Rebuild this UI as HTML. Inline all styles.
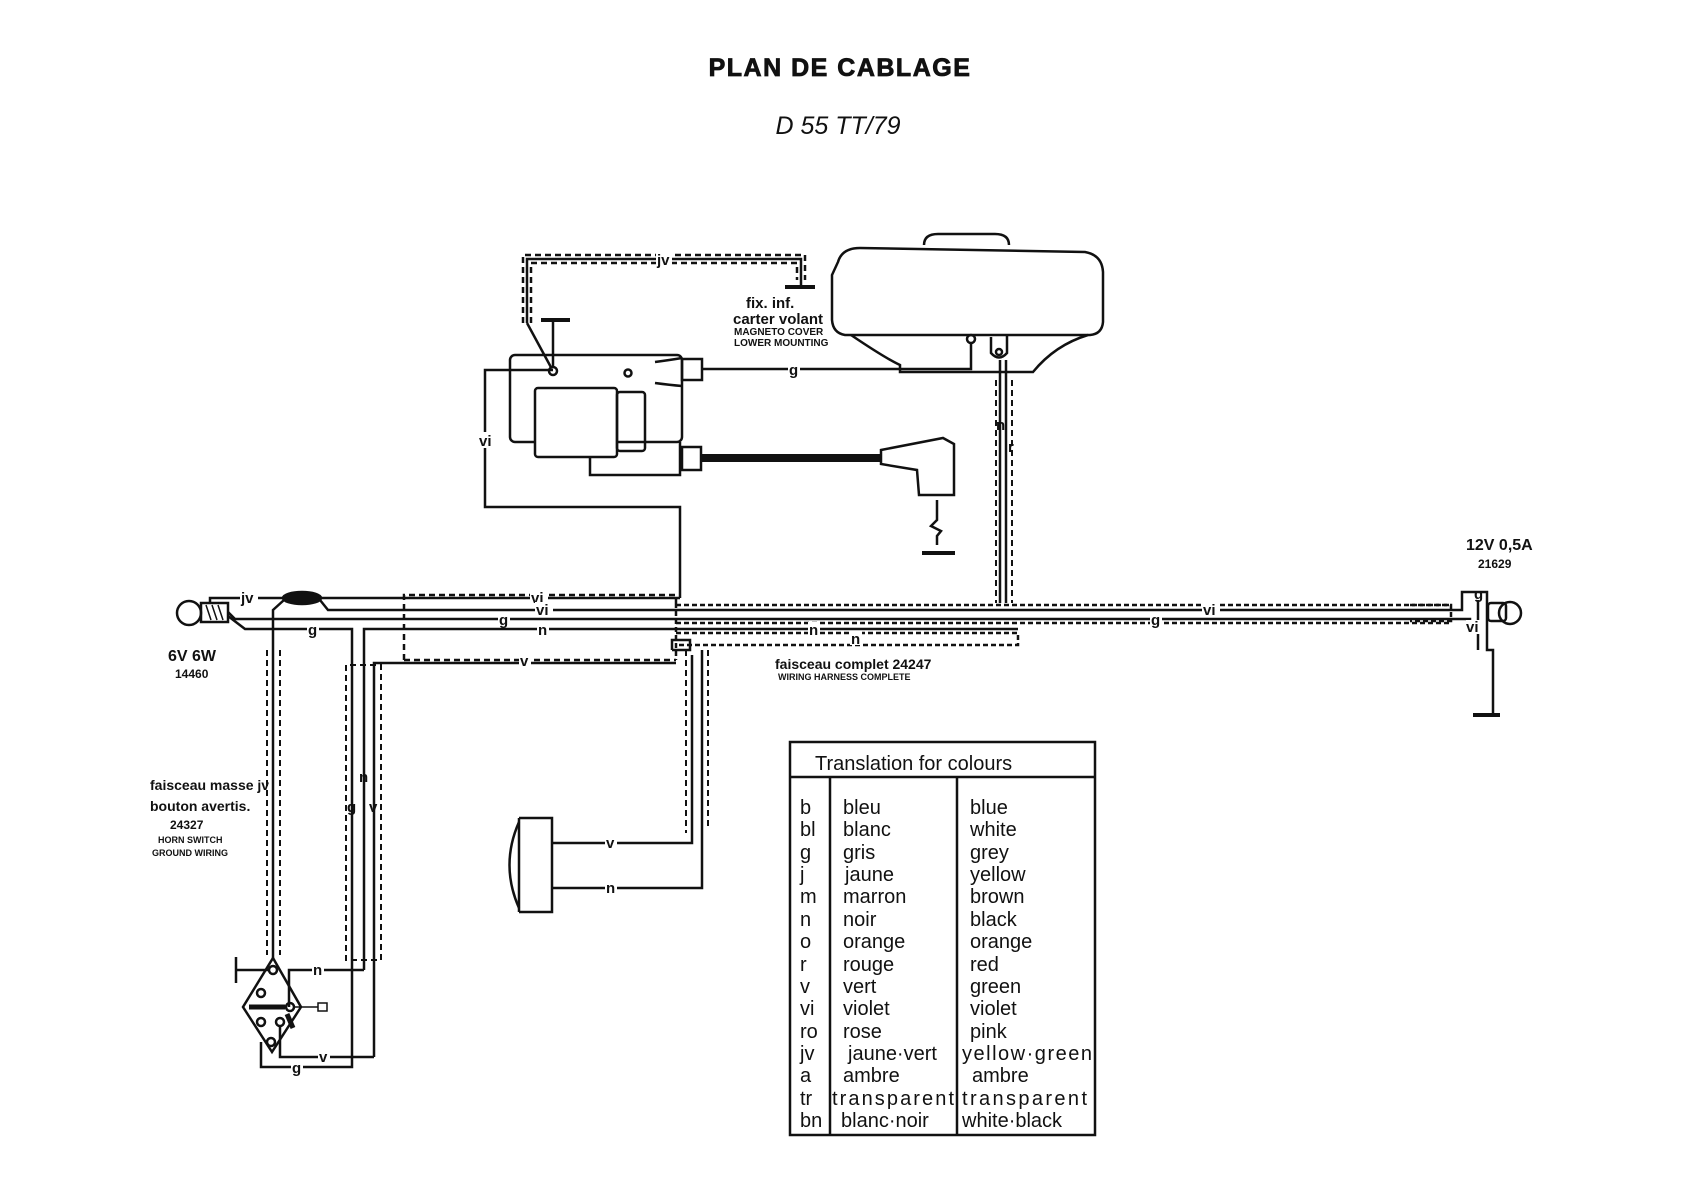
<!DOCTYPE html>
<html><head><meta charset="utf-8"><style>
html,body{margin:0;padding:0;background:#fff}
svg{display:block}
text{font-family:"Liberation Sans",sans-serif;fill:#111}
.b{font-weight:bold}
.t{font-size:20px}
</style></head><body>
<svg width="1690" height="1200" viewBox="0 0 1690 1200" xmlns="http://www.w3.org/2000/svg">
<text x="840" y="76" class="b" font-size="25" letter-spacing="1.5" stroke="#111" stroke-width="0.8" text-anchor="middle">PLAN DE CABLAGE</text>
<text x="838" y="134" font-size="25" font-style="italic" text-anchor="middle">D 55 TT/79</text>

<g stroke="#111" stroke-width="2.5" fill="none">
<!-- jv dashed loop -->
<path d="M523 323 V255 H805 V280" stroke-dasharray="6 4"/>
<path d="M531 323 V263 H797 V280" stroke-dasharray="6 4"/>
<path d="M527 323 V259 H801 V287"/>
<path d="M527 323 L553 371"/>
<path d="M553 371 V320"/>
<!-- coil -->
<rect x="510" y="355" width="172" height="87" rx="5"/>
<rect x="535" y="388" width="82" height="69" rx="3" fill="#fff"/>
<rect x="617" y="392" width="28" height="59" rx="3"/>
<path d="M590 457 V475 H680 V442"/>
<rect x="682" y="359" width="20" height="21"/>
<rect x="682" y="447" width="19" height="23"/>
<circle cx="553" cy="371" r="4" fill="#fff"/>
<circle cx="628" cy="373" r="3.5"/>
<path d="M655 362 Q670 360 682 358 M655 383 Q670 385 682 386"/>
<!-- g wire -->
<path d="M702 369 H971 V344"/>
<circle cx="971" cy="339" r="4" fill="#fff"/>
<!-- HT lead -->
<path d="M701 458 H881" stroke-width="8"/>
<path d="M881 450 L943 438 L954 444 L954 495 L919 495 L917 470 L881 464 Z" fill="#fff"/>
<path d="M937 500 V520 L931 526 L941 531 L937 536 V545"/>
<!-- magneto -->
<path d="M924 245 Q924 234 938 234 H995 Q1009 234 1009 245"/>
<path d="M838 262 Q842 248 860 248 L1085 252 Q1102 255 1103 272 V322 Q1102 334 1090 335 H845 Q833 333 832 320 V275 Z"/>
<path d="M851 335 Q885 358 900 365 V372 H1033 Q1055 345 1088 335"/>
<path d="M991 337 V353 Q999 362 1007 353 V335"/>
<circle cx="999" cy="352" r="3"/>
<!-- n r wires -->
<path d="M1000 360 V603 M1006 360 V603"/>
<path d="M996 380 V603 M1012 380 V603" stroke-dasharray="6 4" stroke-width="2"/>
<!-- vi from coil -->
<path d="M553 370 H485 V507 H680 V598"/>
<!-- lamp left -->
<circle cx="189" cy="613" r="12"/>
<rect x="201" y="603" width="27" height="19"/>
<path d="M206 605 L211 620 M212 605 L217 620 M218 605 L223 620" stroke-width="1.5"/>
<path d="M210 603 V598 H283"/>
<ellipse cx="302" cy="598" rx="19" ry="6" fill="#111"/>
<path d="M321 598 H680"/>
<path d="M320 600 L328 610 H1451"/>
<path d="M228 612 L235 619 H1451"/>
<path d="M228 616 L245 629 H352 V1067 H261 V1042"/>
<path d="M364 970 V629 H1018"/>
<!-- dashed harness -->
<path d="M404 660 V595 H676 V603" stroke-dasharray="6 4"/>
<path d="M404 660 H676" stroke-dasharray="6 4"/>
<path d="M676 605 H1451 M676 623 H1451" stroke-dasharray="5 3"/>
<path d="M676 633 H1018 V645 H676" stroke-dasharray="5 3"/>
<path d="M676 603 V660" stroke-dasharray="5 3"/>
<path d="M374 1057 V663 H676"/>
<path d="M672 650 V640 H690 V650 H672"/>
<!-- jv to horn switch -->
<path d="M284 600 L273 610 V958"/>
<path d="M267 650 V955 M280 650 V955" stroke-dasharray="6 4" stroke-width="2"/>
<!-- g n v column dashed -->
<path d="M346 665 V960 H381 V665 Z" stroke-dasharray="6 4" stroke-width="2"/>
<!-- horn switch -->
<path d="M273 958 L301 1007 L272 1052 L243 1007 Z"/>
<path d="M236 970 H270 M236 957 V983"/>
<circle cx="273" cy="970" r="4"/><circle cx="261" cy="993" r="4"/><circle cx="290" cy="1007" r="4"/>
<circle cx="261" cy="1022" r="4"/><circle cx="280" cy="1022" r="4"/><circle cx="271" cy="1042" r="4"/>
<path d="M249 1007 H285" stroke-width="5"/>
<path d="M294 1007 H318" stroke-width="1.5"/>
<rect x="318" y="1003" width="9" height="8" stroke-width="1.5"/>
<path d="M287 1014 L293 1028" stroke-width="5"/>
<path d="M289 1007 V970 H364"/>
<path d="M280 1026 V1057 H374"/>
<!-- horn -->
<path d="M519 818 V912 M519 818 H552 V912 H519"/>
<path d="M519 822 Q500 865 519 908"/>
<path d="M552 843 H692 V655"/>
<path d="M552 888 H702 V650"/>
<path d="M686 650 V833 M708 650 V828" stroke-dasharray="6 4" stroke-width="2"/>
<!-- right lamp -->
<path d="M1451 610 H1462 V592 H1480 M1451 619 H1470 V628"/>
<path d="M1480 592 H1487 V650 H1493 V713"/>
<path d="M1478 600 V650"/>
<rect x="1488" y="603" width="18" height="18" rx="3"/>
<circle cx="1510" cy="613" r="11"/>
<path d="M1410 605 H1451 V621 H1410" stroke-dasharray="5 3"/>
<!-- grounds -->
<path d="M1473 715 H1500 M785 287 H815 M541 320 H570 M922 553 H955" stroke-width="4"/>
<!-- table -->
<rect x="790" y="742" width="305" height="393"/>
<path d="M790 777 H1095 M830 777 V1135 M957 777 V1135"/>
</g>
<!-- wire labels -->
<g class="b" font-size="15">
<rect x="656" y="252" width="16" height="14" fill="#fff"/><text x="657" y="265">jv</text>
<rect x="788" y="362" width="12" height="14" fill="#fff"/><text x="789" y="375">g</text>
<rect x="479" y="432" width="14" height="16" fill="#fff"/><text x="479" y="446">vi</text>
<text x="996" y="430">n</text><text x="1008" y="452">r</text>
<rect x="240" y="590" width="18" height="14" fill="#fff"/><text x="241" y="603">jv</text>
<rect x="530" y="590" width="18" height="14" fill="#fff"/><text x="531" y="603">vi</text>
<rect x="535" y="602" width="18" height="14" fill="#fff"/><text x="536" y="615">vi</text>
<rect x="498" y="612" width="12" height="14" fill="#fff"/><text x="499" y="625">g</text>
<rect x="307" y="622" width="12" height="14" fill="#fff"/><text x="308" y="635">g</text>
<rect x="537" y="622" width="12" height="14" fill="#fff"/><text x="538" y="635">n</text>
<rect x="519" y="653" width="12" height="14" fill="#fff"/><text x="520" y="666">v</text>
<rect x="808" y="622" width="12" height="14" fill="#fff"/><text x="809" y="635">n</text>
<rect x="850" y="631" width="12" height="14" fill="#fff"/><text x="851" y="644">n</text>
<rect x="1202" y="603" width="18" height="14" fill="#fff"/><text x="1203" y="615">vi</text>
<rect x="1150" y="612" width="12" height="14" fill="#fff"/><text x="1151" y="625">g</text>
<rect x="1466" y="620" width="16" height="14" fill="#fff"/><text x="1466" y="632">vi</text>
<text x="1474" y="599">g</text>
<text x="359" y="782">n</text><text x="347" y="812">g</text><text x="369" y="812">v</text>
<rect x="312" y="963" width="12" height="14" fill="#fff"/><text x="313" y="975">n</text>
<rect x="318" y="1050" width="12" height="14" fill="#fff"/><text x="319" y="1062">v</text>
<rect x="291" y="1060" width="12" height="14" fill="#fff"/><text x="292" y="1073">g</text>
<rect x="605" y="836" width="12" height="14" fill="#fff"/><text x="606" y="848">v</text>
<rect x="605" y="881" width="12" height="14" fill="#fff"/><text x="606" y="893">n</text>
</g>
<!-- annotations -->
<g class="b">
<text x="746" y="308" font-size="15">fix. inf.</text>
<text x="733" y="324" font-size="15">carter volant</text>
<text x="734" y="335" font-size="10">MAGNETO COVER</text>
<text x="734" y="346" font-size="10">LOWER MOUNTING</text>
<text x="168" y="661" font-size="16">6V 6W</text>
<text x="175" y="678" font-size="12">14460</text>
<text x="1466" y="550" font-size="16">12V 0,5A</text>
<text x="1478" y="568" font-size="12">21629</text>
<text x="775" y="669" font-size="14">faisceau complet  24247</text>
<text x="778" y="680" font-size="9">WIRING HARNESS COMPLETE</text>
<text x="150" y="790" font-size="14">faisceau masse jv</text>
<text x="150" y="811" font-size="14">bouton avertis.</text>
<text x="170" y="829" font-size="12">24327</text>
<text x="158" y="843" font-size="9">HORN SWITCH</text>
<text x="152" y="856" font-size="9">GROUND WIRING</text>
</g>
<!-- table text -->
<g class="t">
<text x="815" y="770">Translation  for  colours</text>
<text x="800" y="814">b</text><text x="843" y="814">bleu</text><text x="970" y="814">blue</text>
<text x="800" y="836">bl</text><text x="843" y="836">blanc</text><text x="970" y="836">white</text>
<text x="800" y="859">g</text><text x="843" y="859">gris</text><text x="970" y="859">grey</text>
<text x="800" y="881">j</text><text x="845" y="881">jaune</text><text x="970" y="881">yellow</text>
<text x="800" y="903">m</text><text x="843" y="903">marron</text><text x="970" y="903">brown</text>
<text x="800" y="926">n</text><text x="843" y="926">noir</text><text x="970" y="926">black</text>
<text x="800" y="948">o</text><text x="843" y="948">orange</text><text x="970" y="948">orange</text>
<text x="800" y="971">r</text><text x="843" y="971">rouge</text><text x="970" y="971">red</text>
<text x="800" y="993">v</text><text x="843" y="993">vert</text><text x="970" y="993">green</text>
<text x="800" y="1015">vi</text><text x="843" y="1015">violet</text><text x="970" y="1015">violet</text>
<text x="800" y="1038">ro</text><text x="843" y="1038">rose</text><text x="970" y="1038">pink</text>
<text x="800" y="1060">jv</text><text x="848" y="1060">jaune·vert</text><text x="962" y="1060" textLength="130">yellow·green</text>
<text x="800" y="1082">a</text><text x="843" y="1082">ambre</text><text x="972" y="1082">ambre</text>
<text x="800" y="1105">tr</text><text x="832" y="1105" textLength="122">transparent</text><text x="962" y="1105" textLength="125">transparent</text>
<text x="800" y="1127">bn</text><text x="841" y="1127">blanc·noir</text><text x="962" y="1127">white·black</text>
</g>
</svg>
</body></html>
